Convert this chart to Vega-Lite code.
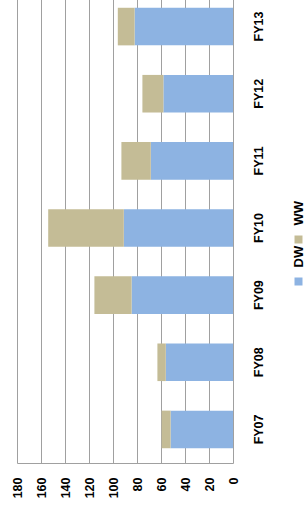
{
  "$schema": "https://vega.github.io/schema/vega-lite/v6.json",
  "width": 216,
  "height": 470,
  "autosize": {"type": "none"},
  "padding": {"left": 17, "top": -7, "right": 72, "bottom": 51},
  "background": "white",
  "config": {"view": {"stroke": null}, "font": "Liberation Sans"},
  "data": {
    "values": [
      {"year": "FY07", "series": "DW", "value": 52},
      {"year": "FY07", "series": "WW", "value": 7.5},
      {"year": "FY08", "series": "DW", "value": 56},
      {"year": "FY08", "series": "WW", "value": 7},
      {"year": "FY09", "series": "DW", "value": 84.5},
      {"year": "FY09", "series": "WW", "value": 31},
      {"year": "FY10", "series": "DW", "value": 91},
      {"year": "FY10", "series": "WW", "value": 63},
      {"year": "FY11", "series": "DW", "value": 68.5},
      {"year": "FY11", "series": "WW", "value": 24.5},
      {"year": "FY12", "series": "DW", "value": 58},
      {"year": "FY12", "series": "WW", "value": 17.5},
      {"year": "FY13", "series": "DW", "value": 82},
      {"year": "FY13", "series": "WW", "value": 14}
    ]
  },
  "mark": {"type": "bar"},
  "encoding": {
    "y": {
      "field": "year",
      "type": "nominal",
      "sort": ["FY13", "FY12", "FY11", "FY10", "FY09", "FY08", "FY07"],
      "scale": {"paddingInner": 0.44, "paddingOuter": 0.22},
      "axis": {
        "orient": "right",
        "title": null,
        "labelAngle": -90,
        "labelAlign": "center",
        "labelBaseline": "top",
        "labelPadding": 19,
        "ticks": false,
        "domain": false,
        "labelFontSize": 12.5,
        "labelFontWeight": "bold",
        "labelColor": "#000000"
      }
    },
    "x": {
      "field": "value",
      "type": "quantitative",
      "stack": "zero",
      "scale": {"domain": [0, 180], "reverse": true, "nice": false},
      "axis": {
        "orient": "bottom",
        "values": [0, 20, 40, 60, 80, 100, 120, 140, 160, 180],
        "title": null,
        "labelAngle": -90,
        "labelAlign": "right",
        "labelBaseline": "middle",
        "labelPadding": 14,
        "ticks": false,
        "grid": true,
        "gridColor": "#a0a0a0",
        "gridOpacity": 1,
        "domainColor": "#a0a0a0",
        "labelFontSize": 12.5,
        "labelFontWeight": "bold",
        "labelColor": "#000000",
        "labelFlush": false,
        "labelOverlap": false
      }
    },
    "color": {
      "field": "series",
      "type": "nominal",
      "scale": {"domain": ["WW", "DW"], "range": ["#c4bc96", "#8db3e2"]},
      "legend": {
        "orient": "none",
        "legendX": 275,
        "legendY": 240,
        "direction": "vertical",
        "title": null,
        "padding": 0,
        "symbolType": "square",
        "symbolSize": 64,
        "symbolStrokeWidth": 0,
        "labelOffset": -6,
        "rowPadding": 1,
        "labelFontSize": 13,
        "labelFontWeight": "bold",
        "labelColor": "#000000",
        "encoding": {
          "labels": {
            "angle": {"value": -90},
            "align": {"value": "left"},
            "baseline": {"value": "middle"},
            "dx": {"value": 14}
          }
        }
      }
    },
    "order": {"field": "series", "sort": "ascending"}
  }
}
